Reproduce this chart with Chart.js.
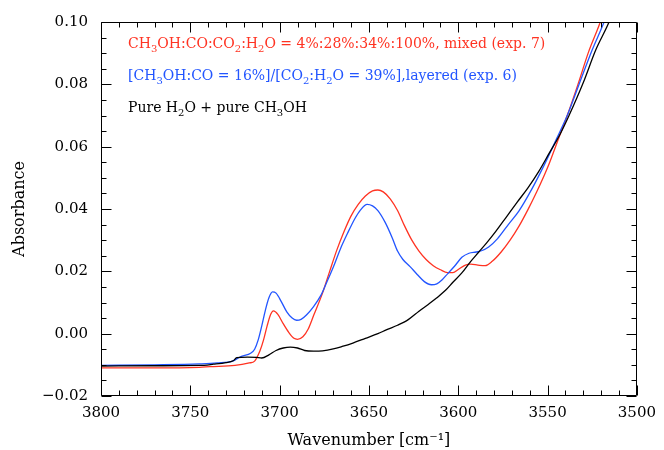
<!DOCTYPE html>
<html lang="en">
<head>
<meta charset="UTF-8">
<title>Absorbance spectra</title>
<style>
    html, body { margin: 0; padding: 0; background: #fff; }
    #wrap { width: 664px; height: 450px; }
</style>
<script src="https://cdn.jsdelivr.net/npm/chart.js"></script>
</head>
<body>
<div id="wrap"><canvas id="chart" width="664" height="450"></canvas></div>
<script>
    // tick values
    const xTicks = [3800, 3750, 3700, 3650, 3600, 3550, 3500];
    const yTicks = [-0.02, 0.00, 0.02, 0.04, 0.06, 0.08, 0.10];

    // mixed (exp. 7), red
    const mixedX = [3800, 3770, 3745, 3739, 3725, 3717, 3714, 3711, 3709, 3707, 3705, 3703.5, 3701, 3698, 3695, 3692, 3690, 3687, 3684, 3681,
        3676, 3672, 3668, 3664, 3660, 3656, 3652, 3648, 3645, 3642, 3638, 3634, 3630, 3626, 3622, 3618, 3614, 3610, 3606, 3603,
        3600, 3596, 3593, 3589, 3585, 3581, 3576, 3571, 3566, 3561, 3556, 3550, 3544, 3539, 3533, 3527, 3520.5, 3518];
    const mixedY = [-0.0110, -0.0110, -0.0108, -0.0106, -0.0102, -0.0094, -0.0088, -0.0055, -0.0020, 0.0025, 0.0062, 0.0073, 0.0062, 0.0032, 0.0005, -0.0015, -0.0018, -0.0010, 0.0015, 0.0058,
        0.0130, 0.0200, 0.0268, 0.0327, 0.0378, 0.0415, 0.0442, 0.0458, 0.0461, 0.0455, 0.0432, 0.0395, 0.0345, 0.0300, 0.0265, 0.0238, 0.0218, 0.0205, 0.0196, 0.0196,
        0.0206, 0.0220, 0.0223, 0.0220, 0.0218, 0.0232, 0.0262, 0.0300, 0.0345, 0.0398, 0.0456, 0.0533, 0.0624, 0.0700, 0.0800, 0.0905, 0.1000, 0.1045];

    // layered (exp. 6), blue
    const layeredX = [3800, 3770, 3745, 3735, 3726, 3722, 3716, 3714, 3712, 3710, 3708, 3706, 3704, 3702, 3699, 3696, 3693, 3690.5, 3688, 3685,
        3681, 3677, 3674, 3670, 3666, 3662, 3658, 3655, 3651, 3648, 3645, 3641, 3637, 3634, 3631, 3627, 3623, 3619, 3615, 3612,
        3609, 3606, 3602, 3598, 3594, 3590, 3587, 3583, 3578, 3572, 3566, 3559, 3552, 3545, 3539, 3532, 3525, 3518.4, 3516];
    const layeredY = [-0.0102, -0.0100, -0.0097, -0.0094, -0.0087, -0.0074, -0.0062, -0.0050, -0.0020, 0.0025, 0.0075, 0.0115, 0.0134, 0.0130, 0.0102, 0.0070, 0.0050, 0.0043, 0.0046, 0.0060,
        0.0087, 0.0122, 0.0160, 0.0213, 0.0272, 0.0322, 0.0368, 0.0395, 0.0415, 0.0410, 0.0395, 0.0358, 0.0308, 0.0265, 0.0238, 0.0215, 0.0190, 0.0167, 0.0157, 0.0160,
        0.0173, 0.0192, 0.0217, 0.0245, 0.0258, 0.0262, 0.0266, 0.0278, 0.0305, 0.0350, 0.0394, 0.0462, 0.0540, 0.0625, 0.0700, 0.0806, 0.0911, 0.1000, 0.1040];

    // pure H2O + pure CH3OH, black
    const pureX = [3800, 3770, 3745, 3737, 3730, 3726, 3724, 3718, 3713, 3710, 3706, 3702, 3698, 3694, 3690, 3686, 3681, 3676, 3670, 3665,
        3659, 3652, 3645, 3640, 3634, 3628, 3622, 3617, 3612, 3607, 3603, 3598, 3593, 3588.5, 3584, 3579, 3573, 3567, 3561, 3555,
        3549, 3543, 3538, 3530, 3523, 3515.6, 3513];
    const pureY = [-0.0104, -0.0103, -0.0102, -0.0098, -0.0093, -0.0087, -0.0077, -0.0075, -0.0076, -0.0078, -0.0068, -0.0054, -0.0046, -0.0043, -0.0046, -0.0054, -0.0056, -0.0055, -0.0049, -0.0041,
        -0.0030, -0.0015, 0.0000, 0.0013, 0.0027, 0.0045, 0.0072, 0.0093, 0.0115, 0.0140, 0.0165, 0.0195, 0.0232, 0.0262, 0.0292, 0.0328, 0.0375, 0.0422, 0.0468, 0.0520,
        0.0580, 0.0640, 0.0700, 0.0806, 0.0911, 0.1000, 0.1040];

    // legend lines; "_" marks a one-character subscript
    const legendTexts = [
        'CH_3OH:CO:CO_2:H_2O = 4%:28%:34%:100%, mixed (exp. 7)',
        '[CH_3OH:CO = 16%]/[CO_2:H_2O = 39%],layered (exp. 6)',
        'Pure H_2O + pure CH_3OH'
    ];
    const colors = ['#ff3322', '#2255ff', '#000000'];

    function toPoints(xs, ys) {
        return xs.map((x, i) => ({ x: x, y: ys[i] }));
    }

    // box with inward ticks on all sides, plus the text legend
    const framePlugin = {
        id: 'frame',
        afterDatasetsDraw(chart) {
            const ctx = chart.ctx;
            const a = chart.chartArea;
            const xs = chart.scales.x, ys = chart.scales.y;
            ctx.save();
            ctx.strokeStyle = '#000';
            ctx.lineWidth = 1;
            ctx.beginPath();
            const l = Math.round(a.left) + 0.5, r = Math.round(a.right) - 0.5;
            const t = Math.round(a.top) + 0.5, b = Math.round(a.bottom) - 0.5;
            ctx.rect(l, t, r - l, b - t);
            for (let v = 3500; v <= 3800; v += 10) {
                const px = Math.round(xs.getPixelForValue(v)) + 0.5;
                const len = v % 50 === 0 ? 10 : 5;
                ctx.moveTo(px, b); ctx.lineTo(px, b - len);
                ctx.moveTo(px, t); ctx.lineTo(px, t + len);
            }
            for (let i = 0; i <= 24; i++) {
                const py = Math.round(ys.getPixelForValue(-0.02 + i * 0.005)) + 0.5;
                const len = i % 4 === 0 ? 10 : 5;
                ctx.moveTo(l, py); ctx.lineTo(l + len, py);
                ctx.moveTo(r, py); ctx.lineTo(r - len, py);
            }
            ctx.stroke();

            legendTexts.forEach((txt, k) => {
                let x = a.left + 27;
                const base = 48 + k * 32;
                ctx.fillStyle = colors[k];
                ctx.textBaseline = 'alphabetic';
                for (let i = 0; i < txt.length; i++) {
                    let ch = txt[i], dy = 0;
                    if (ch === '_') {
                        i++; ch = txt[i];
                        ctx.font = '10px "DejaVu Serif"';
                        dy = 4;
                    } else {
                        ctx.font = '14px "DejaVu Serif"';
                    }
                    ctx.fillText(ch, x, base + dy);
                    x += ctx.measureText(ch).width;
                }
            });
            ctx.restore();
        }
    };

    const tickFont = { family: 'DejaVu Serif', size: 15 };
    const titleFont = { family: 'DejaVu Serif', size: 16 };

    new Chart(document.getElementById('chart'), {
        type: 'scatter',
        data: {
            datasets: [
                { label: 'pure', data: toPoints(pureX, pureY), borderColor: colors[2] },
                { label: 'layered', data: toPoints(layeredX, layeredY), borderColor: colors[1] },
                { label: 'mixed', data: toPoints(mixedX, mixedY), borderColor: colors[0] }
            ].map(d => Object.assign(d, {
                showLine: true, pointRadius: 0, borderWidth: 1.3,
                cubicInterpolationMode: 'monotone', fill: false
            }))
        },
        options: {
            responsive: false,
            animation: false,
            layout: { padding: { top: 15, right: 26, left: 0, bottom: 0 } },
            plugins: { legend: { display: false }, tooltip: { enabled: false } },
            scales: {
                x: {
                    type: 'linear', reverse: true, min: 3500, max: 3800,
                    afterBuildTicks: s => { s.ticks = xTicks.map(v => ({ value: v })); },
                    afterFit: s => { s.height = 54; },
                    grid: { display: false, drawTicks: false },
                    border: { display: false },
                    ticks: { font: tickFont, color: '#000', padding: 8, maxRotation: 0, autoSkip: false,
                        callback: v => String(v) },
                    title: { display: true, text: 'Wavenumber [cm\u207B\u00B9]', font: titleFont, color: '#000',
                        padding: { top: 0, bottom: 0 } }
                },
                y: {
                    type: 'linear', min: -0.02, max: 0.10,
                    afterBuildTicks: s => { s.ticks = yTicks.map(v => ({ value: v })); },
                    afterFit: s => { s.width = 101; },
                    grid: { display: false, drawTicks: false },
                    border: { display: false },
                    ticks: { font: tickFont, color: '#000', padding: 13, autoSkip: false,
                        callback: v => (v < -1e-9 ? '\u2212' : '') + Math.abs(v).toFixed(2) },
                    title: { display: true, text: 'Absorbance', font: titleFont, color: '#000',
                        padding: { top: 10, bottom: 0 } }
                }
            }
        },
        plugins: [framePlugin]
    });
</script>
</body>
</html>
